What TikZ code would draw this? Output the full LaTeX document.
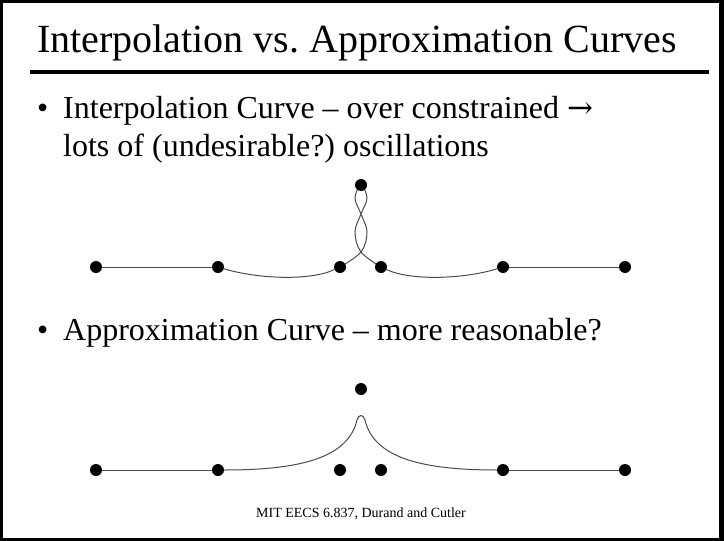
\documentclass[tikz,border=0pt]{standalone}
\usepackage{fontspec}
\setmainfont{Liberation Serif}
\newfontfamily\arrowfont{DejaVu Serif}
\frenchspacing
\usetikzlibrary{positioning, calc, backgrounds}

\begin{document}
\begin{tikzpicture}[
				x=1pt, y=-1pt,
				dot/.style={
					circle, fill=black, inner sep=0pt, minimum size=12pt
				},
				txt/.style={
					anchor=base west, inner sep=0pt
				},
				bigtxt/.style={
					txt, font=\fontsize{32}{38}\selectfont
				},
				curve/.style={black!70, line width=1pt},
				]
				
				%frame
				\begin{scope}[on background layer]
					\fill[black] (0,0) rectangle (724,541);
					\fill[white] (3,3) rectangle (719,538);
				\end{scope}
				
				%title
				\node[txt, font=\fontsize{40}{48}\selectfont] (title) at (37,52) {Interpolation vs.\ Approximation Curves};
				\draw[line width=3.5pt] (30,72) -- (709,72);
				
				%first bullet
				\node[bigtxt] (dotA) at (37,118) {•};
				\node[bigtxt] (lineA) at (63,118) {Interpolation Curve – over constrained {\arrowfont\fontsize{31}{38}\selectfont →}};
				\node[bigtxt] (lineB) at (63,156) {lots of (undesirable?) oscillations};
				
				\node[dot] (a0) at (96,267) {};
				\node[dot] (a1) at (218,267) {};
				\node[dot] (a2) at (340,267) {};
				\node[dot] (a3) at (361,185) {};
				\node[dot] (a4) at (381,267) {};
				\node[dot] (a5) at (503,267) {};
				\node[dot] (a6) at (625,267) {};
				
				\draw[curve] (a0) -- (a1);
				\draw[curve] (a1) .. controls (258,279) and (310,281) .. (a2);
				\begin{scope}[on background layer]
					\draw[curve] plot[smooth, tension=0.6] coordinates {(a2.center) (361,252) (367,232) (361,214) (355,198) (a3.center) (367,198) (361,214) (355,232) (361,252) (a4.center)};
				\end{scope}
				\draw[curve] (a4) .. controls (411,281) and (464,279) .. (a5);
				\draw[curve] (a5) -- (a6);
				
				%second bullet
				\node[bigtxt] (dotB) at (37,340) {•};
				\node[bigtxt] (lineC) at (63,340) {Approximation Curve – more reasonable?};
				
				\node[dot] (b0) at (96,470) {};
				\node[dot] (b1) at (218,470) {};
				\node[dot] (b2) at (340,470) {};
				\node[dot] (b3) at (361,389) {};
				\node[dot] (b4) at (381,470) {};
				\node[dot] (b5) at (503,470) {};
				\node[dot] (b6) at (625,470) {};
				
				\coordinate (peakL) at (357,420);
				\coordinate (peakR) at (365,420);
				\draw[curve] (b0) -- (b1);
				\draw[curve] (b1) .. controls (300,470) and (348,458) .. (peakL)
					.. controls (359,414) and (363,414) .. (peakR)
					.. controls (374,458) and (422,470) .. (b5);
				\draw[curve] (b5) -- (b6);
				
				%footer
				\node[font=\fontsize{14}{17}\selectfont, anchor=base, inner sep=0pt] (foot) at (361,517) {MIT EECS 6.837, Durand and Cutler};
\end{tikzpicture}
\end{document}
